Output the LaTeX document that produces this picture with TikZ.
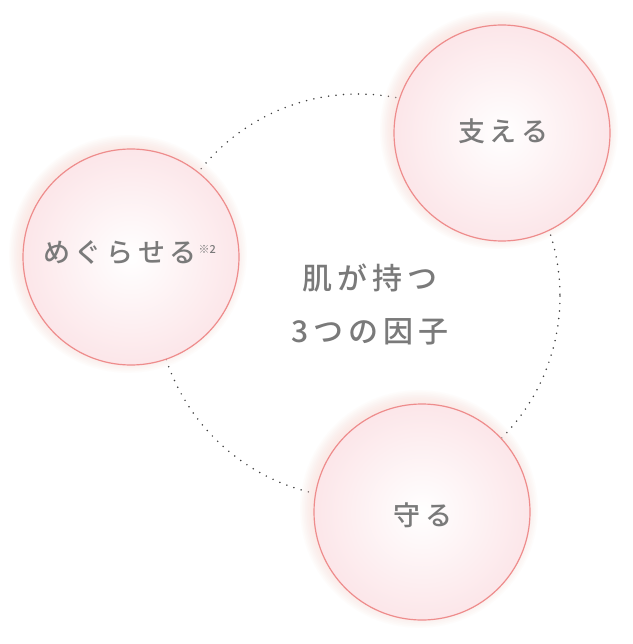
\documentclass[tikz,border=0pt]{standalone}
\usepackage{fontspec}
\newfontfamily\jp{Noto Sans CJK JP Medium}
\definecolor{ring}{HTML}{EE8C8C}
\definecolor{glow}{HTML}{FBD9D4}
\definecolor{inner}{HTML}{FCE6E9}
\definecolor{txt}{HTML}{7A7A7A}
\begin{document}
\begin{tikzpicture}[x=1pt,y=-1pt,
  lbl/.style={text=txt,font=\jp\fontsize{27}{30}\selectfont},
  ctr/.style={text=txt,font=\jp\fontsize{30}{32}\selectfont},
  dotline/.style={draw=black!75,line width=1.7pt,dash pattern=on 0pt off 7.5pt,line cap=round}]
\useasboundingbox (0,0) rectangle (632,644);
\fill[white] (0,0) rectangle (632,644);
\coordinate (big) at (358,296);
\draw[dotline] (big) circle[radius=202];
\newcommand\ball[2]{%
  \foreach \k in {1,...,8}{\fill[glow,opacity=0.08] (#1) ++(-3,-3) circle[radius=106+1.6*\k];}
  \shade[inner color=white,outer color=inner] (#1) circle[radius=108];
  \draw[ring,line width=1.2pt] (#1) circle[radius=108];
  \node[lbl] (#2) at (#1) {};}
\coordinate (c1) at (502,133);
\coordinate (c2) at (131,257);
\coordinate (c3) at (422,512);
\ball{c1}{b1}
\ball{c2}{b2}
\ball{c3}{b3}
\node[lbl] (t1) at (503,131) {支\,え\,る};
\node[lbl] (t2) at (120,253) {め\,ぐ\,ら\,せ\,る};
\node[text=txt,font=\jp\fontsize{11}{12}\selectfont,anchor=west] (t2s) at (t2.north east) [yshift=-12pt,xshift=-5pt] {※2};
\node[lbl] (t3) at (423,515) {守\,る};
\node[ctr] (m1) at (370,278) {肌\,が\,持\,つ};
\node[ctr] (m2) at (370,332) {3\,つ\,の\,因\,子};
\end{tikzpicture}
\end{document}
